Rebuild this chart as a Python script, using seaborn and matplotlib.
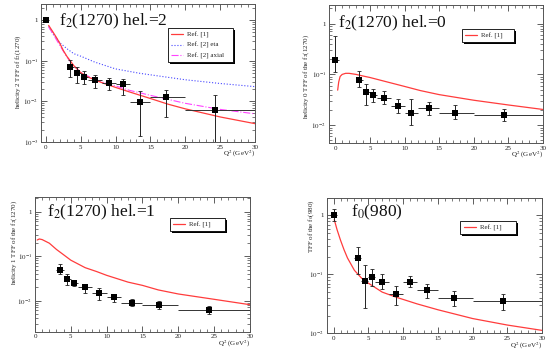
import numpy as np
import pandas as pd
import matplotlib
matplotlib.use("Agg")
import matplotlib.pyplot as plt
import seaborn as sns
from matplotlib.ticker import MultipleLocator, LogLocator, FuncFormatter, NullFormatter
from matplotlib.lines import Line2D
from matplotlib.patches import Rectangle
from matplotlib.transforms import IdentityTransform

# ---------------- data ----------------
# bin centres / edges of the measured points (Q^2 in GeV^2)
q2_pts = [3.5, 4.5, 5.5, 7.0, 9.0, 11.0, 13.5, 17.3, 24.3]
q2_lo = [3.0, 4.0, 5.0, 6.0, 8.0, 10.0, 12.0, 15.0, 20.0]
q2_hi = [4.0, 5.0, 6.0, 8.0, 10.0, 12.0, 15.0, 20.0, 30.0]

# point at Q^2 = 0 (real photon) for the panels that have it
q2_zero = [0.0]
q2_zero_lo = [-0.5]
q2_zero_hi = [0.5]

# f2(1270) helicity 2
hel2_y = [1.0, 0.072, 0.050, 0.040, 0.033, 0.029, 0.026, 0.0095, 0.013, 0.0061]
hel2_lo = [0.93, 0.040, 0.029, 0.026, 0.021, 0.019, 0.014, 0.0014, 0.004, 0.0008]
hel2_hi = [1.07, 0.105, 0.069, 0.057, 0.045, 0.038, 0.035, 0.018, 0.019, 0.014]

# f2(1270) helicity 0
hel0_y = [0.195, 0.078, 0.045, 0.039, 0.035, 0.024, 0.017, 0.0215, 0.017, 0.016]
hel0_lo = [0.11, 0.056, 0.025, 0.029, 0.026, 0.017, 0.010, 0.016, 0.013, 0.012]
hel0_hi = [0.56, 0.115, 0.064, 0.052, 0.047, 0.033, 0.033, 0.028, 0.025, 0.021]

# f2(1270) helicity 1 (no Q^2=0 point)
hel1_y = [0.050, 0.031, 0.025, 0.020, 0.015, 0.012, 0.009, 0.0081, 0.006]
hel1_lo = [0.039, 0.022, 0.021, 0.015, 0.0105, 0.0095, 0.0077, 0.0065, 0.0049]
hel1_hi = [0.065, 0.039, 0.029, 0.024, 0.019, 0.014, 0.011, 0.010, 0.0077]

# f0(980)
f0_y = [1.0, 0.19, 0.077, 0.091, 0.075, 0.046, 0.075, 0.055, 0.039, 0.035]
f0_lo = [0.79, 0.103, 0.027, 0.064, 0.056, 0.030, 0.061, 0.039, 0.029, 0.025]
f0_hi = [1.28, 0.286, 0.145, 0.125, 0.103, 0.064, 0.095, 0.070, 0.053, 0.046]

# theory curves
hel2_ref1_x = [0.4, 1, 1.5, 2, 2.5, 3, 4, 5, 6, 7, 8, 10, 12, 15, 17.5, 20, 25, 30]
hel2_ref1_y = [0.75, 0.52, 0.38, 0.27, 0.18, 0.13, 0.076, 0.051, 0.040, 0.034, 0.029,
               0.022, 0.017, 0.0117, 0.0085, 0.0065, 0.0041, 0.0028]
hel2_eta_x = [0.4, 1, 2, 3, 4, 5, 7, 10, 13.5, 15, 20, 25, 30]
hel2_eta_y = [0.71, 0.47, 0.28, 0.20, 0.15, 0.13, 0.093, 0.063, 0.049, 0.045, 0.034, 0.0275, 0.023]
hel2_axial_x = [0.4, 1, 2, 3, 4, 5, 6, 7, 8, 10, 12, 15, 20, 25, 30]
hel2_axial_y = [0.68, 0.47, 0.24, 0.125, 0.075, 0.052, 0.042, 0.035, 0.030, 0.024,
                0.0186, 0.014, 0.0089, 0.0063, 0.0049]

hel0_ref1_x = [0.35, 0.5, 0.7, 1, 1.5, 2, 3, 4, 5, 7.5, 10, 12.3, 15, 20, 25, 30]
hel0_ref1_y = [0.049, 0.071, 0.091, 0.100, 0.105, 0.105, 0.100, 0.093, 0.087, 0.071,
               0.058, 0.048, 0.040, 0.031, 0.025, 0.0204]

hel1_ref1_x = [0.3, 0.6, 1, 2, 3, 4, 5, 7, 8.6, 10, 13, 15, 17.2, 20, 25, 30]
hel1_ref1_y = [0.23, 0.243, 0.235, 0.195, 0.141, 0.107, 0.081, 0.055, 0.045, 0.037,
               0.026, 0.022, 0.0174, 0.0141, 0.0107, 0.0081]

f0_ref1_x = [0.1, 0.5, 1, 1.5, 2, 3, 4, 5, 7, 9, 12, 15, 20, 25, 30]
f0_ref1_y = [0.85, 0.575, 0.38, 0.263, 0.19, 0.117, 0.087, 0.071, 0.050, 0.041,
             0.0316, 0.0251, 0.0178, 0.0138, 0.0112]

titles = [r"f$_2$(1270) hel.=2", r"f$_2$(1270) hel.=0", r"f$_2$(1270) hel.=1", r"f$_0$(980)"]
ylabels = [r"helicity 2 TFF of f$_2$(1270)", r"helicity 0 TFF of the f$_2$(1270)",
           r"helicity 1 TFF of the f$_2$(1270)", r"TFF of the f$_0$(980)"]
xlabel = r"Q$^2$ (GeV$^2$)"

# ---------------- style ----------------
sns.set_theme(style="ticks")
plt.rcParams["font.family"] = ["Liberation Serif", "DejaVu Serif"]
plt.rcParams["mathtext.fontset"] = "stix"

RED = "#ff3c3c"
BLUE = "#4646ff"
MAGENTA = "#ff44ff"

fig = plt.figure(figsize=(5.48, 3.5), dpi=100)

axes_rect = [
    [0.0748, 0.595, 0.3905, 0.393],
    [0.6004, 0.592, 0.3905, 0.393],
    [0.0639, 0.0523, 0.392, 0.384],
    [0.596, 0.0477, 0.3934, 0.3874],
]
xlims = [(-0.7, 30), (-0.9, 30), (0, 30), (-1.0, 30)]
ylims = [(1e-3, 2.5), (0.0045, 2.3), (0.002, 2.1), (0.01, 2.0)]
ylab_pos = [(-0.086, 0.513), (-0.082, 0.48), (-0.073, 0.664), (-0.05, 0.79)]
title_pos = [(0.084, 0.873), (0.042, 0.866), (0.054, 0.887), (0.113, 0.89)]
legend_box = [(0.593, 0.826, 0.304), (0.62, 0.826, 0.244), (0.628, 0.848, 0.256), (0.62, 0.828, 0.257)]


def logfmt(v, pos):
    e = int(round(np.log10(v)))
    if e == 0:
        return "1"
    return r"$10^{%d}$" % e


def style(ax, i):
    ax.set_yscale("log")
    ax.set_xlim(*xlims[i])
    ax.set_ylim(*ylims[i])
    ax.xaxis.set_major_locator(MultipleLocator(5))
    ax.xaxis.set_minor_locator(MultipleLocator(1))
    ax.yaxis.set_major_locator(LogLocator(base=10, numticks=10))
    ax.yaxis.set_minor_locator(LogLocator(base=10, subs=np.arange(2, 10), numticks=40))
    ax.yaxis.set_major_formatter(FuncFormatter(logfmt))
    ax.yaxis.set_minor_formatter(NullFormatter())
    ax.tick_params(which="both", direction="in", top=True, right=True, labelsize=5,
                   pad=2, color="#444", labelcolor="#222")
    ax.tick_params(which="major", length=4.5, width=0.6)
    ax.tick_params(which="minor", length=2.3, width=0.5)
    for s in ax.spines.values():
        s.set_color("#555")
        s.set_linewidth(0.7)
    ax.set_xlabel(xlabel, loc="right", fontsize=5, labelpad=-0.5, color="#222")
    ax.set_ylabel(ylabels[i], fontsize=5, color="#222")
    ax.yaxis.set_label_coords(*ylab_pos[i])
    ax.text(*title_pos[i], titles[i], transform=ax.transAxes, fontsize=12.5,
            ha="left", va="center", color="#111")


def points(ax, x, xl, xh, y, lo, hi):
    x = np.array(x); y = np.array(y)
    xl = np.array(xl); xh = np.array(xh)
    lo = np.array(lo); hi = np.array(hi)
    ax.errorbar(x, y, xerr=[x - xl, xh - x], fmt="none", ecolor="#333",
                elinewidth=0.7, capsize=0, zorder=4)
    ax.errorbar(x, y, yerr=[y - lo, hi - y], fmt="none", ecolor="#222",
                elinewidth=0.7, capsize=1.3, capthick=0.6, zorder=4)
    df = pd.DataFrame({"q2": x, "tff": y})
    sns.scatterplot(data=df, x="q2", y="tff", ax=ax, marker="s", color="black",
                    s=13, linewidth=0, zorder=5, legend=False)


def curve(ax, x, y, color, ls, lw):
    df = pd.DataFrame({"q2": x, "tff": y})
    sns.lineplot(data=df, x="q2", y="tff", ax=ax, color=color, linestyle=ls,
                 linewidth=lw, sort=False, legend=False, zorder=3)


legends = []


def legend(ax, i, handles, labels):
    x0, ytop, w = legend_box[i]
    leg = ax.legend(handles, labels, loc="upper left",
                    bbox_to_anchor=(x0, ytop, w, 0.0), mode="expand",
                    fontsize=5, frameon=True, fancybox=False, shadow=False,
                    borderpad=0.5, labelspacing=0.6, handlelength=1.7,
                    handletextpad=0.6, borderaxespad=0)
    leg.set_zorder(10)
    fr = leg.get_frame()
    fr.set_edgecolor("black")
    fr.set_linewidth(0.6)
    fr.set_facecolor("white")
    fr.set_alpha(1.0)
    legends.append((ax, leg))


axs = [fig.add_axes(r) for r in axes_rect]

# panel 1: helicity 2
ax = axs[0]
curve(ax, hel2_eta_x, hel2_eta_y, BLUE, ":", 0.8)
curve(ax, hel2_axial_x, hel2_axial_y, MAGENTA, "-.", 0.8)
curve(ax, hel2_ref1_x, hel2_ref1_y, RED, "-", 0.9)
points(ax, q2_zero + q2_pts, q2_zero_lo + q2_lo, q2_zero_hi + q2_hi, hel2_y, hel2_lo, hel2_hi)
style(ax, 0)
legend(ax, 0,
       [Line2D([], [], color=RED, lw=0.9), Line2D([], [], color=BLUE, lw=0.8, ls=":"),
        Line2D([], [], color=MAGENTA, lw=0.8, ls="-.")],
       ["Ref. [1]", "Ref. [2] eta", "Ref. [2] axial"])

# panel 2: helicity 0
ax = axs[1]
curve(ax, hel0_ref1_x, hel0_ref1_y, RED, "-", 0.9)
points(ax, q2_zero + q2_pts, q2_zero_lo + q2_lo, q2_zero_hi + q2_hi, hel0_y, hel0_lo, hel0_hi)
style(ax, 1)
legend(ax, 1, [Line2D([], [], color=RED, lw=0.9)], ["Ref. [1]"])

# panel 3: helicity 1
ax = axs[2]
curve(ax, hel1_ref1_x, hel1_ref1_y, RED, "-", 0.9)
points(ax, q2_pts, q2_lo, q2_hi, hel1_y, hel1_lo, hel1_hi)
style(ax, 2)
legend(ax, 2, [Line2D([], [], color=RED, lw=0.9)], ["Ref. [1]"])

# panel 4: f0(980)
ax = axs[3]
curve(ax, f0_ref1_x, f0_ref1_y, RED, "-", 0.9)
points(ax, q2_zero + q2_pts, q2_zero_lo + q2_lo, q2_zero_hi + q2_hi, f0_y, f0_lo, f0_hi)
style(ax, 3)
legend(ax, 3, [Line2D([], [], color=RED, lw=0.9)], ["Ref. [1]"])

# thin ROOT-style drop shadows behind the legends
fig.canvas.draw()
for ax, leg in legends:
    bb = leg.get_frame().get_window_extent()
    sh = Rectangle((bb.x0 + 2.0, bb.y0 - 2.0), bb.width, bb.height,
                   transform=IdentityTransform(), facecolor="black",
                   edgecolor="none", zorder=9, clip_on=False)
    ax.add_patch(sh)

fig.savefig("out.png", dpi=100)
